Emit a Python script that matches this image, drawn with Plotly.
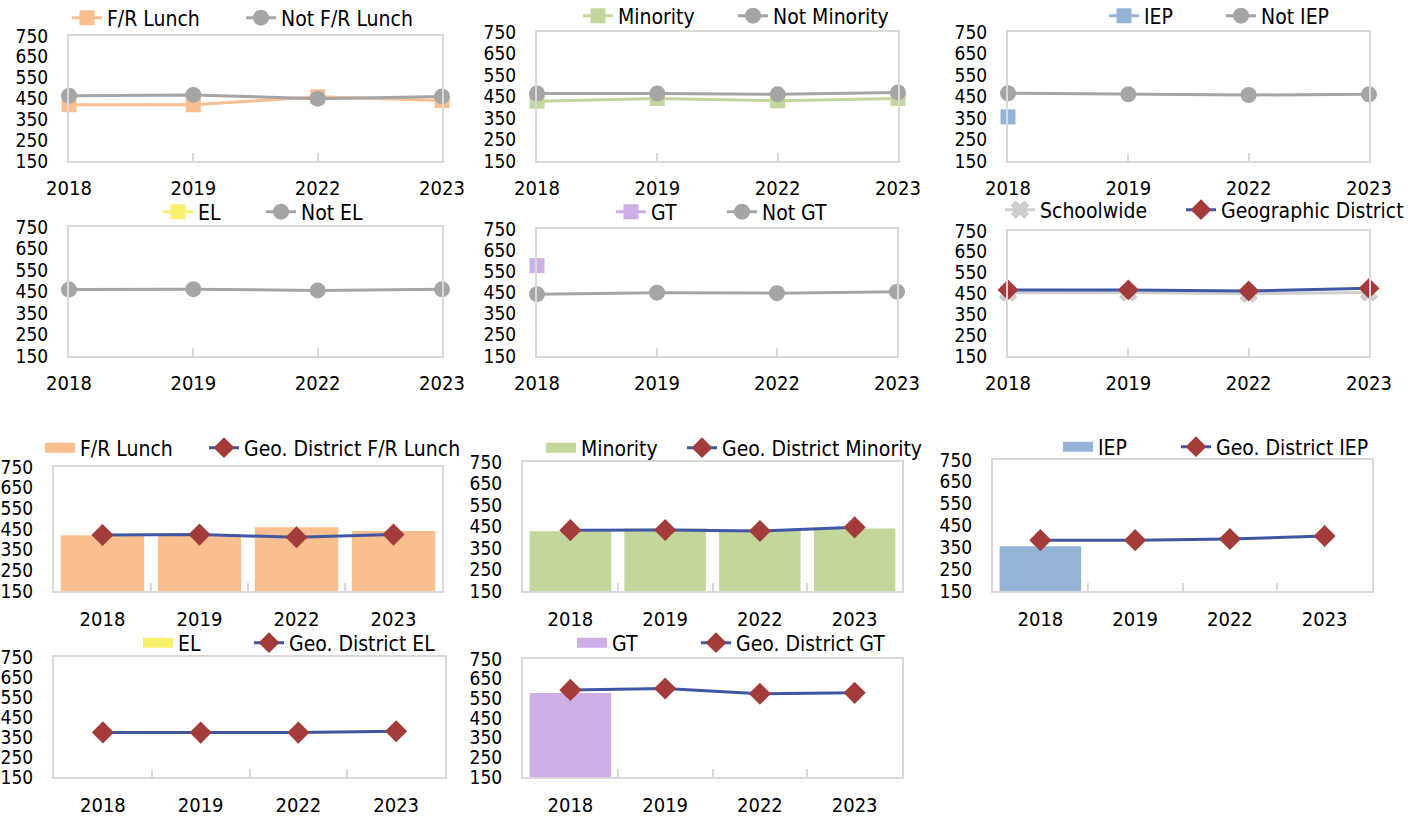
import plotly.graph_objects as go

# ---------------- data ----------------
years = ["2018", "2019", "2022", "2023"]
y_ticks = [150, 250, 350, 450, 550, 650, 750]

fr_lunch = [420, 420, 458, 440]
not_fr_lunch = [463, 467, 449, 460]
minority = [428, 441, 430, 441]
not_minority = [464, 464, 460, 469]
iep = [355, None, None, None]
not_iep = [465, 460, 457, 460]
el = [None, None, None, None]
not_el = [459, 461, 455, 460]
gt = [577, None, None, None]
not_gt = [442, 449, 447, 454]
schoolwide = [454, 455, 449, 455]
geo_district = [467, 467, 462, 475]

geo_fr_lunch = [421, 423, 410, 423]
geo_minority = [433, 434, 429, 446]
geo_iep = [383, 383, 388, 402]
geo_el = [373, 372, 372, 379]
geo_gt = [593, 600, 573, 578]

# ---------------- style ----------------
W, H = 1408, 818
FONT = "Liberation Sans Narrow, Arial Narrow, DejaVu Sans Condensed, sans-serif"
C_ORANGE = "#F9BF8F"
C_GREEN = "#C3D69B"
C_BLUE = "#95B3D7"
C_YELLOW = "#F7F06E"
C_PURPLE = "#CDAFE6"
C_GRAY = "#A5A5A5"
C_LGRAY = "#CFCFCF"
C_NAVY = "#3F58A6"
C_RED = "#A33B3B"
FRAME = "#D9D9D9"

# plot areas in pixels: x0, x1, y0(top), y1(bottom);
# legend: left x, centre y, slot width of first entry text
panels = [
    (69, 442, 36, 161, 67, 18, 129),
    (537, 898, 32, 161, 578, 16, 110),
    (1008, 1369, 32, 161, 1104, 16, 72),
    (69, 442, 227, 356, 158, 212, 58),
    (537, 897, 229, 356, 611, 212, 66),
    (1008, 1369, 231, 356, 1000, 210, 136),
    (54, 442, 467, 591, 40, 448, 119),
    (523, 902, 462, 591, 541, 448, 96),
    (993, 1372, 460, 591, 1058, 447, 73),
    (54, 445, 657, 777, 138, 643, 66),
    (523, 902, 659, 777, 572, 643, 79),
]

line_panels = [
    ("F/R Lunch", fr_lunch, C_ORANGE, "square", "Not F/R Lunch", not_fr_lunch, C_GRAY, "circle"),
    ("Minority", minority, C_GREEN, "square", "Not Minority", not_minority, C_GRAY, "circle"),
    ("IEP", iep, C_BLUE, "square", "Not IEP", not_iep, C_GRAY, "circle"),
    ("EL", el, C_YELLOW, "square", "Not EL", not_el, C_GRAY, "circle"),
    ("GT", gt, C_PURPLE, "square", "Not GT", not_gt, C_GRAY, "circle"),
    ("Schoolwide", schoolwide, C_LGRAY, "x", "Geographic District", geo_district, C_NAVY, "diamond"),
]

bar_panels = [
    ("F/R Lunch", fr_lunch, C_ORANGE, "Geo. District F/R Lunch", geo_fr_lunch),
    ("Minority", minority, C_GREEN, "Geo. District Minority", geo_minority),
    ("IEP", iep, C_BLUE, "Geo. District IEP", geo_iep),
    ("EL", el, C_YELLOW, "Geo. District EL", geo_el),
    ("GT", gt, C_PURPLE, "Geo. District GT", geo_gt),
]

fig = go.Figure()
layout = {}


def sfx(i):
    return "" if i == 1 else str(i)


for i, (x0, x1, y0, y1, lx, ly, lw) in enumerate(panels, start=1):
    s = sfx(i)
    is_bar = i >= 7
    layout["xaxis" + s] = dict(
        domain=[x0 / W, x1 / W], anchor="y" + s, type="category",
        range=[-0.5, 3.5] if is_bar else [0, 3],
        showline=True, mirror=True, linecolor=FRAME, linewidth=2,
        ticks="inside", ticklen=8, tickwidth=1.5, tickcolor=FRAME,
        tickson="boundaries" if is_bar else "labels",
        showgrid=False, zeroline=False, automargin=False,
        tickfont=dict(family=FONT, size=20, color="#000000"),
        ticklabelstandoff=8 if not is_bar else 9,
        fixedrange=True,
    )
    layout["yaxis" + s] = dict(
        domain=[1 - y1 / H, 1 - y0 / H], anchor="x" + s,
        range=[150, 750], tickvals=y_ticks,
        showline=True, mirror=True, linecolor=FRAME, linewidth=2,
        ticks="", showgrid=False, zeroline=False, automargin=False,
        tickfont=dict(family=FONT, size=19, color="#000000"),
        ticklabelstandoff=15,
        fixedrange=True,
    )
    layout["legend" + s] = dict(
        x=lx / W, y=1 - ly / H, xanchor="left", yanchor="middle",
        xref="container", yref="container",
        orientation="h", bgcolor="rgba(0,0,0,0)",
        font=dict(family=FONT, size=21, color="#000000"),
        itemwidth=30, tracegroupgap=0,
    )

for i, (n1, v1, c1, s1, n2, v2, c2, s2) in enumerate(line_panels, start=1):
    s = sfx(i)
    lw = panels[i - 1][6]
    for k, (name, vals, col, sym) in enumerate(((n1, v1, c1, s1), (n2, v2, c2, s2))):
        msize = 16 if sym in ("circle", "diamond") else 15
        mcol = C_RED if sym == "diamond" else col
        fig.add_trace(go.Scatter(
            x=years, y=vals, name=name, mode="lines+markers",
            line=dict(color=col, width=3),
            marker=dict(symbol=sym, size=msize, color=mcol,
                        line=dict(width=1, color="#BDBDBD") if sym == "x" else dict(width=0)),
            xaxis="x" + s, yaxis="y" + s, legend="legend" + s,
            legendwidth=lw if k == 0 else None,
            connectgaps=False, cliponaxis=False,
        ))

for j, (n1, v1, c1, n2, v2) in enumerate(bar_panels, start=7):
    s = sfx(j)
    lw = panels[j - 1][6]
    fig.add_trace(go.Bar(
        x=years, y=[(v - 150) if v is not None else None for v in v1], base=150,
        name=n1, marker=dict(color=c1, line=dict(width=0)), width=0.86,
        xaxis="x" + s, yaxis="y" + s, legend="legend" + s, showlegend=False,
    ))
    # legend swatch for the bar series (wide rectangle like the original)
    fig.add_trace(go.Scatter(
        x=[None], y=[None], name=n1, mode="lines",
        line=dict(color=c1, width=13), legendwidth=lw,
        xaxis="x" + s, yaxis="y" + s, legend="legend" + s, showlegend=True,
    ))
    fig.add_trace(go.Scatter(
        x=years, y=v2, name=n2, mode="lines+markers",
        line=dict(color=C_NAVY, width=3),
        marker=dict(symbol="diamond", size=17, color=C_RED),
        xaxis="x" + s, yaxis="y" + s, legend="legend" + s, cliponaxis=False,
    ))

fig.update_layout(
    width=W, height=H,
    margin=dict(l=0, r=0, t=0, b=0, autoexpand=False),
    paper_bgcolor="white", plot_bgcolor="white",
    font=dict(family=FONT, color="#000000"),
    **layout,
)

fig.write_html(
    "out.html",
    config={"displayModeBar": False},
    post_script="document.body.style.margin='0px';document.body.style.overflow='hidden';",
)
